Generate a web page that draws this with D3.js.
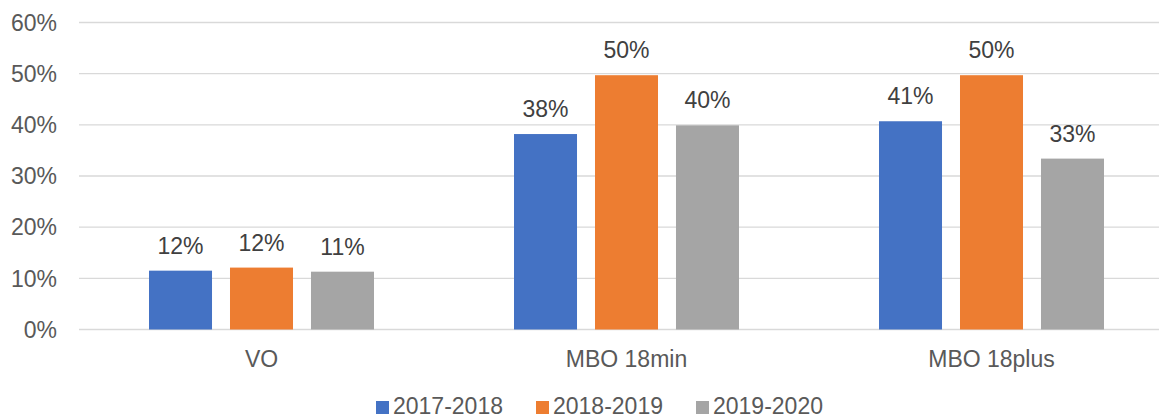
<!DOCTYPE html>
<html>
<head>
<meta charset="utf-8">
<script src="https://cdn.jsdelivr.net/npm/d3@7"></script>
<style>
  html, body { margin: 0; padding: 0; background: #fff; }
  svg { display: block; overflow: hidden; font-family: "Liberation Sans", Arial, sans-serif; }
</style>
</head>
<body>
<div id="canvas"></div>
<script>
// data
var categories = ['VO', 'MBO 18min', 'MBO 18plus'];
var seriesNames = ['2017-2018', '2018-2019', '2019-2020'];
var values2017 = [0.115, 0.382, 0.407];
var values2018 = [0.121, 0.497, 0.497];
var values2019 = [0.113, 0.399, 0.334];
var yTicks = [0, 0.1, 0.2, 0.3, 0.4, 0.5, 0.6];
var colors = ['#4472c4', '#ed7d31', '#a5a5a5'];

var seriesValues = [values2017, values2018, values2019];

var W = 1159, H = 419;

var svg = d3.select('#canvas')
  .append('svg')
  .attr('width', W)
  .attr('height', H);

// plot area (right side runs past the window edge, as in the picture)
var scaleX = d3.scaleBand()
  .domain(categories)
  .range([79, 1174])
  .paddingInner(0.3836)
  .paddingOuter(0.1918);

var scaleInner = d3.scaleBand()
  .domain(seriesNames)
  .range([0, scaleX.bandwidth()])
  .paddingInner(0.222)
  .paddingOuter(0);

var scaleY = d3.scaleLinear()
  .domain([0, 0.6])
  .range([329.5, 22.5]);

var fmt = d3.format('.0%');

// gridlines
svg.append('g')
  .selectAll('line')
  .data(yTicks)
  .enter()
  .append('line')
  .attr('x1', 79)
  .attr('x2', W)
  .attr('y1', function(d){ return scaleY(d); })
  .attr('y2', function(d){ return scaleY(d); })
  .attr('stroke', '#d9d9d9')
  .attr('stroke-width', 1.3);

// y axis labels
var axisY = d3.axisLeft(scaleY)
  .tickValues(yTicks)
  .tickFormat(fmt)
  .tickSize(0)
  .tickPadding(0);

var gy = svg.append('g')
  .attr('transform', 'translate(57,0)')
  .call(axisY);
gy.select('.domain').remove();
gy.selectAll('text')
  .attr('font-size', 23)
  .attr('font-family', '"Liberation Sans", Arial, sans-serif')
  .attr('fill', '#595959')
  .attr('dy', '0.34em');

// bars
var table = [];
categories.forEach(function(c, i){
  seriesNames.forEach(function(s, j){
    table.push({cat: c, series: s, idx: j, value: seriesValues[j][i]});
  });
});

var bars = svg.append('g');
bars.selectAll('rect')
  .data(table)
  .enter()
  .append('rect')
  .attr('x', function(d){ return scaleX(d.cat) + scaleInner(d.series); })
  .attr('y', function(d){ return scaleY(d.value); })
  .attr('width', scaleInner.bandwidth())
  .attr('height', function(d){ return scaleY(0) - scaleY(d.value); })
  .attr('fill', function(d){ return colors[d.idx]; });

// value labels
bars.selectAll('text')
  .data(table)
  .enter()
  .append('text')
  .attr('x', function(d){ return scaleX(d.cat) + scaleInner(d.series) + scaleInner.bandwidth() / 2; })
  .attr('y', function(d){ return scaleY(d.value) - 17; })
  .attr('text-anchor', 'middle')
  .attr('font-size', 23)
  .attr('fill', '#404040')
  .text(function(d){ return fmt(d.value); });

// x axis labels
var axisX = d3.axisBottom(scaleX).tickSize(0).tickPadding(0);
var gx = svg.append('g')
  .attr('transform', 'translate(0,367)')
  .call(axisX);
gx.select('.domain').remove();
gx.selectAll('text')
  .attr('font-size', 23)
  .attr('font-family', '"Liberation Sans", Arial, sans-serif')
  .attr('fill', '#595959')
  .attr('dy', 0);

// legend (kept just inside the bottom edge)
var legendX = [376, 536, 696];
var legend = svg.append('g')
  .selectAll('g')
  .data(seriesNames)
  .enter()
  .append('g')
  .attr('transform', function(d, i){ return 'translate(' + legendX[i] + ',0)'; });

legend.append('rect')
  .attr('x', 0)
  .attr('y', 401)
  .attr('width', 13)
  .attr('height', 13)
  .attr('fill', function(d, i){ return colors[i]; });

legend.append('text')
  .attr('x', 17)
  .attr('y', 414)
  .attr('font-size', 23)
  .attr('fill', '#595959')
  .text(function(d){ return d; });
</script>
</body>
</html>
